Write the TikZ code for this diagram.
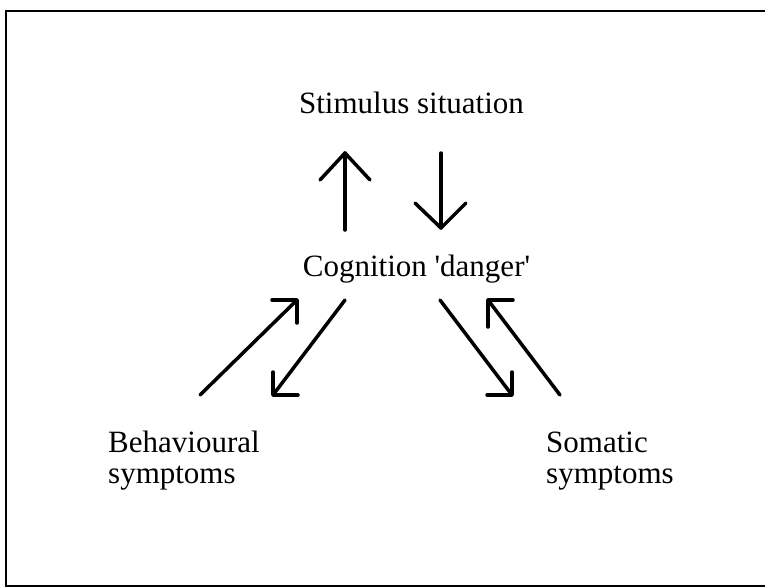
\documentclass[tikz,border=0pt]{standalone}
\usepackage{fontspec}
\setmainfont{Liberation Serif}
\begin{document}
\begin{tikzpicture}[x=1pt,y=-1pt,
  lbl/.style={inner sep=0pt,font=\fontsize{31}{31}\selectfont},
  arr/.style={line width=3.5pt,line cap=round,line join=round},
  frame/.style={line width=2pt}]
\useasboundingbox (0,0) rectangle (765,587);
\draw[frame] (766,11) -- (6,11) -- (6,586) -- (766,586);
% texts
\node[lbl,anchor=base] (stim) at (411.5,113) {Stimulus situation};
\node[lbl,anchor=base] (cog) at (416.5,276) {Cognition \textquotesingle danger\textquotesingle};
\node[lbl,anchor=base west,align=left] (beh) at (108,483) {Behavioural\\symptoms};
\node[lbl,anchor=base west,align=left] (som) at (546,483) {Somatic\\symptoms};
% arrow coordinates
\coordinate (upS) at (345,230); \coordinate (upT) at (345,153);
\coordinate (upA) at (320,180); \coordinate (upB) at (370,180);
\coordinate (dnS) at (441,153); \coordinate (dnT) at (441,228);
\coordinate (dnA) at (415,203); \coordinate (dnB) at (466,203);
\coordinate (urS) at (200,395); \coordinate (urT) at (297,300);
\coordinate (urA) at (272,300); \coordinate (urB) at (297,323);
\coordinate (dlS) at (345,300); \coordinate (dlT) at (273,395);
\coordinate (dlA) at (298,395); \coordinate (dlB) at (273,372);
\coordinate (drS) at (440,300); \coordinate (drT) at (512,395);
\coordinate (drA) at (487,395); \coordinate (drB) at (512,372);
\coordinate (ulS) at (560,395); \coordinate (ulT) at (488,300);
\coordinate (ulA) at (513,300); \coordinate (ulB) at (488,327);
% arrows
\foreach \a in {up,dn,ur,dl,dr,ul}{
  \draw[arr] (\a S) -- (\a T);
  \draw[arr] (\a A) -- (\a T) -- (\a B);
}
\end{tikzpicture}
\end{document}
